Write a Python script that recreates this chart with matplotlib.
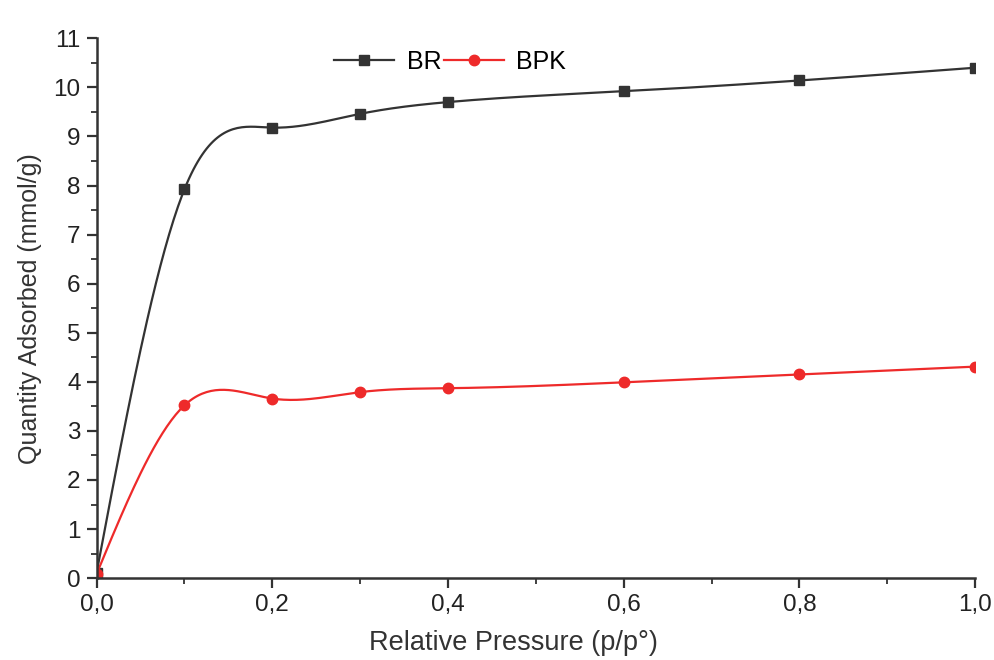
import numpy as np
import matplotlib.pyplot as plt
from matplotlib.ticker import MultipleLocator, FuncFormatter

plt.rcParams['font.family'] = ['Liberation Sans', 'DejaVu Sans']

pressure = [0.0, 0.1, 0.2, 0.3, 0.4, 0.6, 0.8, 1.0]
br = [0.1, 7.92, 9.18, 9.46, 9.70, 9.92, 10.14, 10.40]
bpk = [0.08, 3.52, 3.66, 3.79, 3.87, 3.99, 4.15, 4.31]


def natural_spline(x, y, n=400):
    # natural cubic spline through the points, for a smooth connecting line
    x = np.asarray(x, float)
    y = np.asarray(y, float)
    k = len(x)
    h = np.diff(x)
    A = np.zeros((k, k))
    b = np.zeros(k)
    A[0, 0] = 1
    A[-1, -1] = 1
    for i in range(1, k - 1):
        A[i, i - 1] = h[i - 1]
        A[i, i] = 2 * (h[i - 1] + h[i])
        A[i, i + 1] = h[i]
        b[i] = 3 * ((y[i + 1] - y[i]) / h[i] - (y[i] - y[i - 1]) / h[i - 1])
    c = np.linalg.solve(A, b)
    xs = np.linspace(x[0], x[-1], n)
    ys = np.empty_like(xs)
    for j, xv in enumerate(xs):
        i = min(np.searchsorted(x, xv, side='right') - 1, k - 2)
        dx = xv - x[i]
        bi = (y[i + 1] - y[i]) / h[i] - h[i] * (2 * c[i] + c[i + 1]) / 3
        di = (c[i + 1] - c[i]) / (3 * h[i])
        ys[j] = y[i] + bi * dx + c[i] * dx ** 2 + di * dx ** 3
    return xs, ys


fig, ax = plt.subplots(figsize=(9.95, 6.6), dpi=100)
fig.subplots_adjust(left=0.097, right=0.98, top=0.942, bottom=0.124)

for vals, color, marker, label in [(br, '#333333', 's', 'BR'), (bpk, '#ee2a2a', 'o', 'BPK')]:
    xs, ys = natural_spline(pressure, vals)
    ax.plot(xs, ys, color=color, lw=1.6)
    ax.plot(pressure, vals, color=color, marker=marker, ms=7.5, lw=0)
    ax.plot([], [], color=color, marker=marker, ms=7.5, lw=1.6, label=label)

ax.set_xlim(0, 1.0)
ax.set_ylim(0, 11)
ax.xaxis.set_major_locator(MultipleLocator(0.2))
ax.xaxis.set_minor_locator(MultipleLocator(0.1))
ax.yaxis.set_major_locator(MultipleLocator(1))
ax.yaxis.set_minor_locator(MultipleLocator(0.5))
ax.xaxis.set_major_formatter(FuncFormatter(lambda v, p: f'{v:.1f}'.replace('.', ',')))

for side in ['top', 'right']:
    ax.spines[side].set_visible(False)
for side in ['left', 'bottom']:
    ax.spines[side].set_linewidth(1.8)
    ax.spines[side].set_color('#333333')
ax.tick_params(which='major', direction='out', length=7.5, width=1.6, labelsize=17.5, colors='#333333', pad=4)
ax.tick_params(which='minor', direction='out', length=4.5, width=1.3, colors='#333333')
ax.tick_params(labelcolor='#222222')

ax.set_xlabel('Relative Pressure (p/p°)', fontsize=19.5, color='#333333', labelpad=10, x=0.475)
ax.set_ylabel('Quantity Adsorbed (mmol/g)', fontsize=18, color='#333333', labelpad=8)

ax.legend(loc='upper left', bbox_to_anchor=(0.245, 1.02), ncol=2, frameon=False, fontsize=18,
          handlelength=2.4, columnspacing=0.1, handletextpad=0.5)

plt.savefig('out.png')
